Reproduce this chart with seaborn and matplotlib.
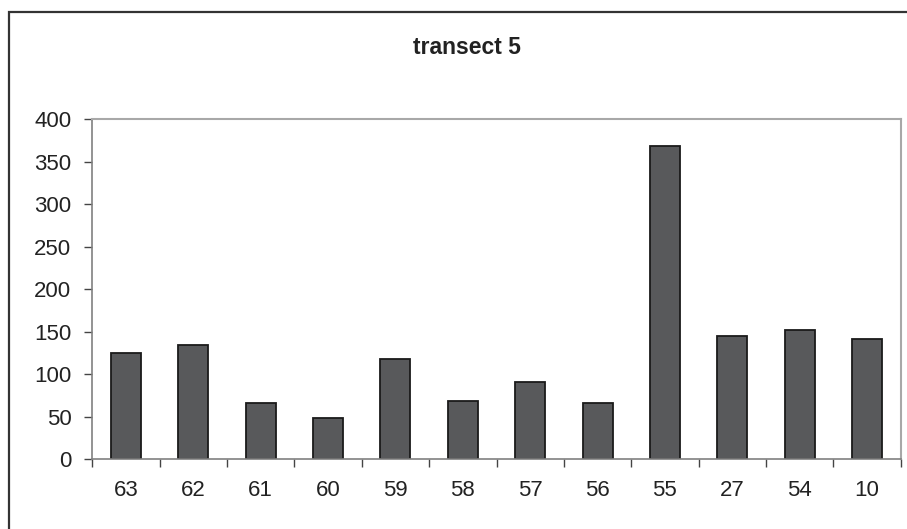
import matplotlib
matplotlib.use("Agg")
import matplotlib.pyplot as plt
import seaborn as sns
import pandas as pd
from matplotlib.patches import Rectangle
from matplotlib.ticker import FixedLocator

categories = ["63", "62", "61", "60", "59", "58", "57", "56", "55", "27", "54", "10"]
values = [125, 134, 66, 48, 118, 68, 91, 66, 368, 145, 152, 141]
title = "transect 5"
yticks = [0, 50, 100, 150, 200, 250, 300, 350, 400]

sns.set_theme(style="white")
plt.rcParams["font.family"] = ["Liberation Sans", "DejaVu Sans"]

W, H = 907, 529
fig = plt.figure(figsize=(W / 100, H / 100), dpi=100)
ax = fig.add_axes([92.3 / W, 1 - 459 / H, (900.7 - 92.3) / W, (459 - 119.3) / H])

df = pd.DataFrame({"site": categories, "count": values})
sns.barplot(data=df, x="site", y="count", order=categories, color="#58595b",
            saturation=1, width=0.445, edgecolor="#1a1a1a", linewidth=1.3, ax=ax)

ax.set_xlim(-0.5, len(categories) - 0.5)
ax.set_ylim(0, 400)
ax.set_yticks(yticks)
ax.set_xlabel("")
ax.set_ylabel("")
ax.tick_params(axis="y", which="major", left=True, length=6, width=1, color="#444444",
               labelsize=16, labelcolor="#222222", pad=9)
ax.tick_params(axis="x", which="major", bottom=False, length=0, labelsize=16,
               labelcolor="#222222", pad=15)
ax.xaxis.set_minor_locator(FixedLocator([i - 0.5 for i in range(len(categories) + 1)]))
ax.tick_params(axis="x", which="minor", bottom=True, length=6, width=1, color="#444444")

for side in ["left", "bottom"]:
    ax.spines[side].set_color("#808080")
    ax.spines[side].set_linewidth(1.2)
for side in ["top", "right"]:
    ax.spines[side].set_color("#a8a8a8")
    ax.spines[side].set_linewidth(1.5)
ax.spines["bottom"].set_zorder(5)

fig.text(467 / W, 1 - 48 / H, title, ha="center", va="center", fontsize=16.5,
         fontweight="bold", color="#222222")

frame = Rectangle((9 / W, -0.05), 1.05, 1.05 - 12 / H, transform=fig.transFigure,
                  fill=False, edgecolor="#333333", linewidth=1.6, clip_on=False)
fig.patches.append(frame)

fig.savefig("out.png", dpi=100, facecolor="white")
